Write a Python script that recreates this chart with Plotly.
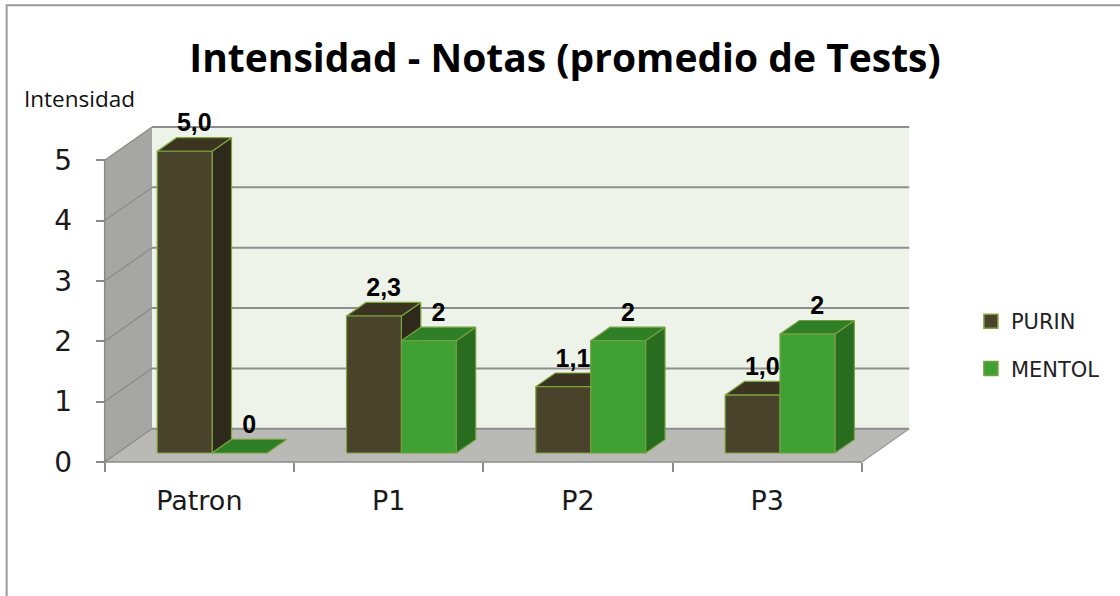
import plotly.graph_objects as go

# ---------------- data ----------------
categories = ["Patron", "P1", "P2", "P3"]
series_names = ["PURIN", "MENTOL"]
purin = [5.0, 2.27, 1.1, 0.96]
mentol = [0.0, 1.86, 1.86, 1.97]
y_ticks = [0, 1, 2, 3, 4, 5]

# ---------------- styling / geometry ----------------
W, H = 1120, 596
X_RANGE = [-0.03, 4.27]
Y_RANGE = [-0.1, 5.6]
PX_X, PX_Y = 189.25, 60.4          # pixels per data unit
ORIGIN = (105, 462)                # pixel of data point (0, 0)
DX, DY = 0.25, 0.55                # full depth offset (data units)
BAR_D0, BAR_D1 = 0.27, 0.68        # bar depth span (fraction of depth)
BAR_W = 0.29
GROUP_OFF = 0.21

ml = ORIGIN[0] - (0 - X_RANGE[0]) * PX_X
pw = (X_RANGE[1] - X_RANGE[0]) * PX_X
mr = W - ml - pw
mb = H - (ORIGIN[1] + (0 - Y_RANGE[0]) * PX_Y)
ph = (Y_RANGE[1] - Y_RANGE[0]) * PX_Y
mt = H - mb - ph

def px2paper_x(px):
    return (px - ml) / pw

def px2paper_y(py):
    return (H - mb - py) / ph

COLORS = {
    "PURIN": dict(front="#4a432c", top="#3a3421", side="#2e2a1b", edge="#7ea43e"),
    "MENTOL": dict(front="#3fa134", top="#2f7f27", side="#276c1f", edge="#76a03f"),
}
GRID = "#8e8e8e"
AXIS = "#8a8a8a"

fig = go.Figure()

def poly(xs, ys, fill, line_color=None, lw=0):
    fig.add_trace(go.Scatter(
        x=list(xs) + [xs[0]], y=list(ys) + [ys[0]], mode="lines",
        fill="toself", fillcolor=fill,
        line=dict(color=line_color or fill, width=lw),
        hoverinfo="skip", showlegend=False))

def seg(xs, ys, color, lw):
    fig.add_trace(go.Scatter(x=xs, y=ys, mode="lines",
                             line=dict(color=color, width=lw),
                             hoverinfo="skip", showlegend=False))

n = len(categories)
ymax = max(y_ticks)

# walls and floor
poly([DX, n + DX, n + DX, DX], [DY, DY, ymax + DY, ymax + DY], "#eef3ea")
poly([0, DX, DX, 0], [0, DY, ymax + DY, ymax], "#a6a6a4")
poly([0, n, n + DX, DX], [0, 0, DY, DY], "#b9bab6")

# gridlines
for k in y_ticks:
    seg([DX, n + DX], [k + DY, k + DY], GRID, 2)
    seg([0, DX], [k, k + DY], "#8a8a8a", 1.2)

# edges / axis lines
seg([0, 0], [0, ymax], AXIS, 1.5)
seg([0, n], [0, 0], AXIS, 1.5)
seg([n, n + DX], [0, DY], "#9a9a9a", 1.2)

# bars
ddx = (BAR_D1 - BAR_D0) * DX
ddy = (BAR_D1 - BAR_D0) * DY
lab_x, lab_y, lab_t = [], [], []
for i in range(n):
    for s, (name, vals) in enumerate(zip(series_names, [purin, mentol])):
        v = vals[i]
        c = COLORS[name]
        x0 = i + GROUP_OFF + s * BAR_W + BAR_D0 * DX
        x1 = x0 + BAR_W
        y0 = BAR_D0 * DY
        y1 = y0 + v
        if v > 0:
            poly([x1, x1 + ddx, x1 + ddx, x1], [y0, y0 + ddy, y1 + ddy, y1], c["side"], c["edge"], 1.2)
        poly([x0, x1, x1 + ddx, x0 + ddx], [y1, y1, y1 + ddy, y1 + ddy], c["top"], c["edge"], 1.2)
        if v > 0:
            poly([x0, x1, x1, x0], [y0, y0, y1, y1], c["front"], c["edge"], 1.2)
        lab_x.append(x0 + BAR_W / 2 + ddx / 2)
        lab_y.append(y1 + ddy)
        lab_t.append(f"{v:.1f}".replace(".", ",") if name == "PURIN" else f"{v:.0f}")

fig.add_trace(go.Scatter(
    x=lab_x, y=lab_y, text=lab_t, mode="text", textposition="top center",
    textfont=dict(family="Liberation Sans", size=25, color="black", weight="bold"),
    hoverinfo="skip", showlegend=False, cliponaxis=False))

# legend entries
for name in series_names:
    c = COLORS[name]
    fig.add_trace(go.Scatter(
        x=[None], y=[None], mode="markers", name=name, legendgroup=name,
        marker=dict(symbol="square", size=14, color=c["front"],
                    line=dict(color=c["edge"], width=1.5))))

fig.update_layout(
    width=W, height=H,
    margin=dict(l=ml, r=mr, t=mt, b=mb, autoexpand=False),
    paper_bgcolor="white", plot_bgcolor="white",
    title=dict(text="Intensidad - Notas (promedio de Tests)",
               font=dict(family="Open Sans", size=39, color="black", weight="bold"),
               x=565 / W, xref="container", xanchor="center",
               y=1 - 58 / H, yref="container", yanchor="middle"),
    xaxis=dict(range=X_RANGE, showgrid=False, zeroline=False, showline=False,
               tickmode="array", tickvals=[i + 0.5 for i in range(n)], ticktext=categories,
               ticks="", ticklabelstandoff=20,
               tickfont=dict(family="DejaVu Sans", size=27, color="#1a1a1a"),
               minor=dict(tickmode="array", tickvals=list(range(n + 1)), ticks="outside",
                          ticklen=9, tickcolor=AXIS, tickwidth=1.5),
               anchor="free", position=(0 - Y_RANGE[0]) / (Y_RANGE[1] - Y_RANGE[0])),
    yaxis=dict(range=Y_RANGE, showgrid=False, zeroline=False, showline=False,
               tickmode="array", tickvals=y_ticks, ticks="outside", ticklen=9,
               tickcolor=AXIS, tickwidth=1.5, ticklabelstandoff=18,
               tickfont=dict(family="DejaVu Sans", size=28, color="#1a1a1a"),
               anchor="free", position=(0 - X_RANGE[0]) / (X_RANGE[1] - X_RANGE[0])),
    legend=dict(x=px2paper_x(971), y=px2paper_y(301), xanchor="left", yanchor="top",
                font=dict(family="DejaVu Sans", size=21, color="#222222"),
                traceorder="grouped", tracegroupgap=17, bgcolor="rgba(0,0,0,0)"),
    showlegend=True,
    annotations=[dict(text="Intensidad", xref="paper", yref="paper",
                      x=px2paper_x(22), y=px2paper_y(98), xanchor="left", yanchor="middle",
                      showarrow=False,
                      font=dict(family="Open Sans", size=22.5, color="#111111"))],
    shapes=[dict(type="rect", xref="paper", yref="paper",
                 x0=px2paper_x(7), x1=px2paper_x(W + 10),
                 y0=px2paper_y(H + 10), y1=px2paper_y(5),
                 line=dict(color="#9c9c9c", width=2), fillcolor="rgba(0,0,0,0)",
                 layer="below")],
)

fig.write_html("out.html", config={"displayModeBar": False},
               post_script="document.body.style.margin='0';")
